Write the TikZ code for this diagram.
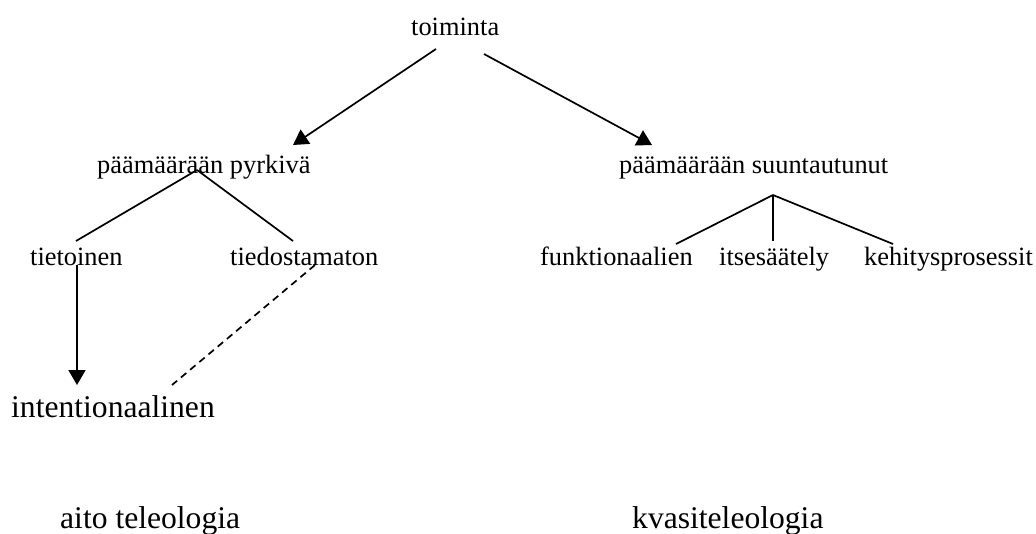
\documentclass[tikz,border=0pt]{standalone}
\usepackage{fontspec}
\setmainfont{Liberation Serif}
\usetikzlibrary{arrows.meta}
\begin{document}
\begin{tikzpicture}[x=1pt,y=-1pt,
  lbl/.style={inner sep=0pt,anchor=base west,font=\fontsize{26.4}{30}\selectfont},
  biglbl/.style={inner sep=0pt,anchor=base west,font=\fontsize{31.6}{36}\selectfont},
  conn/.style={line width=1.7pt},
  arr/.style={conn,-{Triangle[length=15pt,width=17pt]}},
  dsh/.style={line width=1.7pt,dash pattern=on 7pt off 5pt}]
\useasboundingbox (0,0) rectangle (1036,533);
% nodes
\node[lbl] (toim) at (411,35) {toiminta};
\node[lbl] (pyrk) at (97,173) {päämäärään pyrkivä};
\node[lbl] (suun) at (619,173) {päämäärään suuntautunut};
\node[lbl] (tiet) at (30,265) {tietoinen};
\node[lbl] (tied) at (230,265) {tiedostamaton};
\node[lbl] (funk) at (540,265) {funktionaalien};
\node[lbl] (itse) at (719,265) {itsesäätely};
\node[lbl] (kehi) at (864,265) {kehitysprosessit};
\node[biglbl] (inte) at (11,417) {intentionaalinen};
\node[biglbl] (aito) at (60,528) {aito teleologia};
\node[biglbl] (kvas) at (632,528) {kvasiteleologia};
% connection points
\coordinate (toimL) at (436,49);
\coordinate (toimR) at (484,54);
\coordinate (pyrkT) at (293,145);
\coordinate (suunT) at (652,145);
\coordinate (pyrkB) at (197,170);
\coordinate (tietT) at (76,241);
\coordinate (tiedT) at (293,241);
\coordinate (suunB) at (773,195);
\coordinate (funkT) at (676,244);
\coordinate (itseT) at (773,241);
\coordinate (kehiT) at (893,244);
\coordinate (tietB) at (77,265);
\coordinate (inteT) at (77,385);
\coordinate (tiedB) at (315,265);
\coordinate (inteR) at (172,385);
% connectors
\draw[arr] (toimL) -- (pyrkT);
\draw[arr] (toimR) -- (suunT);
\draw[conn] (pyrkB) -- (tietT);
\draw[conn] (pyrkB) -- (tiedT);
\draw[conn] (suunB) -- (funkT);
\draw[conn] (suunB) -- (itseT);
\draw[conn] (suunB) -- (kehiT);
\draw[arr] (tietB) -- (inteT);
\draw[dsh] (tiedB) -- (inteR);
\end{tikzpicture}
\end{document}
